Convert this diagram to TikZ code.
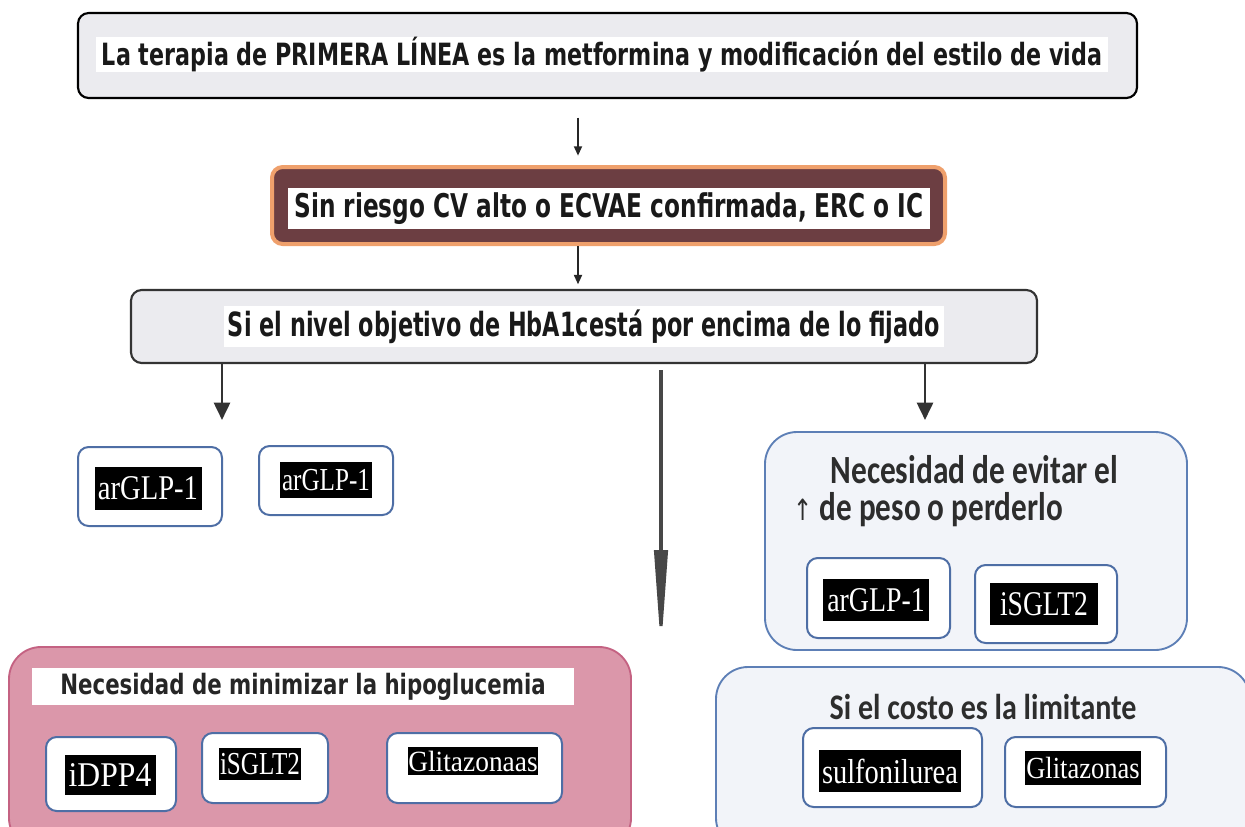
\documentclass[tikz,border=0pt]{standalone}
\usepackage{fontspec}
\usepackage{graphicx}
\usetikzlibrary{arrows.meta,fit}
\setmainfont{DejaVu Sans}
\newfontfamily\headfont{DejaVu Sans}
\newfontfamily\calfont{Carlito}
\newfontfamily\drugfont{Liberation Serif}
\newcommand{\fitto}[2]{\resizebox{#1}{\height}{#2}}

\definecolor{boxgray}{RGB}{235,235,239}
\definecolor{cvbrown}{RGB}{108,62,66}
\definecolor{cvglow}{RGB}{239,160,108}
\definecolor{pinkfill}{RGB}{219,151,170}
\definecolor{pinkedge}{RGB}{196,98,130}
\definecolor{bluefill}{RGB}{242,244,249}
\definecolor{blueedge}{RGB}{93,127,182}
\definecolor{drugedge}{RGB}{78,110,165}
\definecolor{titlegray}{RGB}{45,45,45}

\tikzset{every picture/.style={line width=0.75pt}}
\tikzset{
  graybox/.style={draw=black!80, fill=boxgray, rounded corners=8pt, line width=1.6pt, inner sep=0pt},
  band/.style={fill=white, inner sep=0pt, text=black!90},
  bigbox/.style={rounded corners=24pt, line width=1.4pt, inner sep=0pt},
  drugbox/.style={draw=drugedge, fill=white, rounded corners=8pt, line width=1.5pt, inner sep=0pt},
  drug/.style={fill=black, text=white, inner sep=0pt, font=\drugfont\fontsize{26}{26}\selectfont},
  smallarr/.style={draw=black!85, line width=1.3pt, -{Triangle[length=7pt,width=6pt]}},
  sidearr/.style={draw=black!80, line width=2pt, -{Triangle[length=13pt,width=12pt]}},
  midarr/.style={draw=black!72, line width=2.4pt, -{Triangle[length=75pt,width=10pt]}}
}

\begin{document}
\begin{tikzpicture}[x=0.75pt,y=0.75pt,yscale=-1,xscale=1]
	\clip (0,0) rectangle (1245,826);

	%Rounded Rect (first line)
	\node[graybox, draw=black, fit={(78,13) (1137,98)}] (box1) {};
	% Text Node
	\node[band, minimum width=759pt, minimum height=24.75pt, font=\headfont\bfseries\fontsize{23}{24}\selectfont] (t1) at (602,54.5) {\fitto{750pt}{La terapia de PRIMERA LÍNEA es la metformina y modificación del estilo de vida}};

	%Rounded Rect (riesgo CV)
	\node[fit={(272,167) (945,244)}, draw=cvglow, line width=3pt, fill=cvbrown, rounded corners=8pt, inner sep=0pt] (box2) {};
	% Text Node
	\node[band, minimum width=481.5pt, minimum height=30.75pt, font=\headfont\bfseries\fontsize{24.5}{26}\selectfont] (t2) at (609,208.5) {\fitto{472pt}{Sin riesgo CV alto o ECVAE confirmada, ERC o IC}};

	%Rounded Rect (HbA1c)
	\node[graybox, fit={(131,290) (1037,363)}] (box3) {};
	% Text Node
	\node[band, minimum width=540pt, minimum height=30.75pt, font=\headfont\bfseries\fontsize{25}{26}\selectfont] (t3) at (584,326.5) {\fitto{534pt}{Si el nivel objetivo de HbA1cestá por encima de lo fijado}};

	%Straight Lines
	\coordinate (cT) at (578,0);
	\coordinate (cL) at (222,420);
	\coordinate (cM) at (661,650);
	\coordinate (cR) at (925,420);
	\draw[smallarr, shorten <=14pt, shorten >=7pt] (box1.south -| cT) -- (box2.north -| cT);
	\draw[smallarr, shorten >=3.5pt] (box2.south -| cT) -- (box3.north -| cT);
	\draw[sidearr] (box3.south -| cL) -- (cL);
	\draw[midarr, shorten <=4.5pt] (box3.south -| cM) -- (cM);
	\draw[sidearr] (box3.south -| cR) -- (cR);

	%Rounded Rect (left pair)
	\node[drugbox, fit={(78,447) (222,526)}] (gA) {};
	\node[drug, minimum width=80.25pt, minimum height=32.25pt] (dA) at (148,488) {\fitto{75pt}{arGLP-1}};
	\node[drugbox, fit={(259,446) (393,515)}] (gB) {};
	\node[drug, minimum width=69pt, minimum height=27pt, font=\drugfont\fontsize{24}{24}\selectfont] (dB) at (326,480) {\fitto{66pt}{arGLP-1}};

	%Rounded Rect (hipoglucemia)
	\node[bigbox, draw=pinkedge, fill=pinkfill, fit={(9,647) (631,850)}] (hypo) {};
	% Text Node
	\node[band, minimum width=406.5pt, minimum height=27.75pt, font=\headfont\bfseries\fontsize{21}{22}\selectfont, text=black!85] (t4) at (303,686.5) {\fitto{364pt}{Necesidad de minimizar la hipoglucemia}};
	\node[drugbox, fit={(46,737) (176,811)}] (gC) {};
	\node[drug, minimum width=68.25pt, minimum height=30pt] (dC) at (110,775) {\fitto{62pt}{iDPP4}};
	\node[drugbox, fit={(202,733) (328,803)}] (gD) {};
	\node[drug, minimum width=61.5pt, minimum height=24pt, font=\drugfont\fontsize{24}{24}\selectfont] (dD) at (260,764) {\fitto{60pt}{iSGLT2}};
	\node[drugbox, fit={(387,733) (562,803)}] (gE) {};
	\node[drug, minimum width=98pt, minimum height=21pt, font=\drugfont\fontsize{22}{22}\selectfont] (dE) at (473,761) {\fitto{97pt}{Glitazonaas}};

	%Rounded Rect (peso)
	\node[bigbox, draw=blueedge, fill=bluefill, fit={(765,432) (1187,650)}] (weight) {};
	% Text Node
	\node[anchor=west, align=left, inner sep=0pt, text=titlegray, font=\calfont\bfseries\fontsize{30}{27.75}\selectfont] (t5) at (793,491.5) {\hspace*{27.75pt}\fitto{216pt}{Necesidad de evitar el}\\\fitto{202pt}{{\headfont\mdseries\fontsize{22}{24}\selectfont ↑} de peso o perderlo}};
	\node[drugbox, fit={(807,558) (950,638)}] (gF) {};
	\node[drug, minimum width=80pt, minimum height=32pt] (dF) at (876,600) {\fitto{73pt}{arGLP-1}};
	\node[drugbox, fit={(975,565) (1117,643)}] (gG) {};
	\node[drug, minimum width=81pt, minimum height=31.5pt] (dG) at (1044,604) {\fitto{66pt}{iSGLT2}};

	%Rounded Rect (costo)
	\node[bigbox, draw=blueedge, fill=bluefill, fit={(716,667) (1250,850)}] (cost) {};
	% Text Node
	\node[inner sep=0pt, text=titlegray, font=\calfont\bfseries\fontsize{27}{29}\selectfont] (t7) at (983,707) {\fitto{230pt}{Si el costo es la limitante}};
	\node[drugbox, fit={(803,728) (982,807)}] (gH) {};
	\node[drug, minimum width=106pt, minimum height=31.5pt] (dH) at (890,771) {\fitto{102pt}{sulfonilurea}};
	\node[drugbox, fit={(1005,737) (1166,807)}] (gI) {};
	\node[drug, minimum width=87pt, minimum height=25pt, font=\drugfont\fontsize{23}{23}\selectfont] (dI) at (1083,768) {\fitto{85pt}{Glitazonas}};

\end{tikzpicture}
\end{document}
